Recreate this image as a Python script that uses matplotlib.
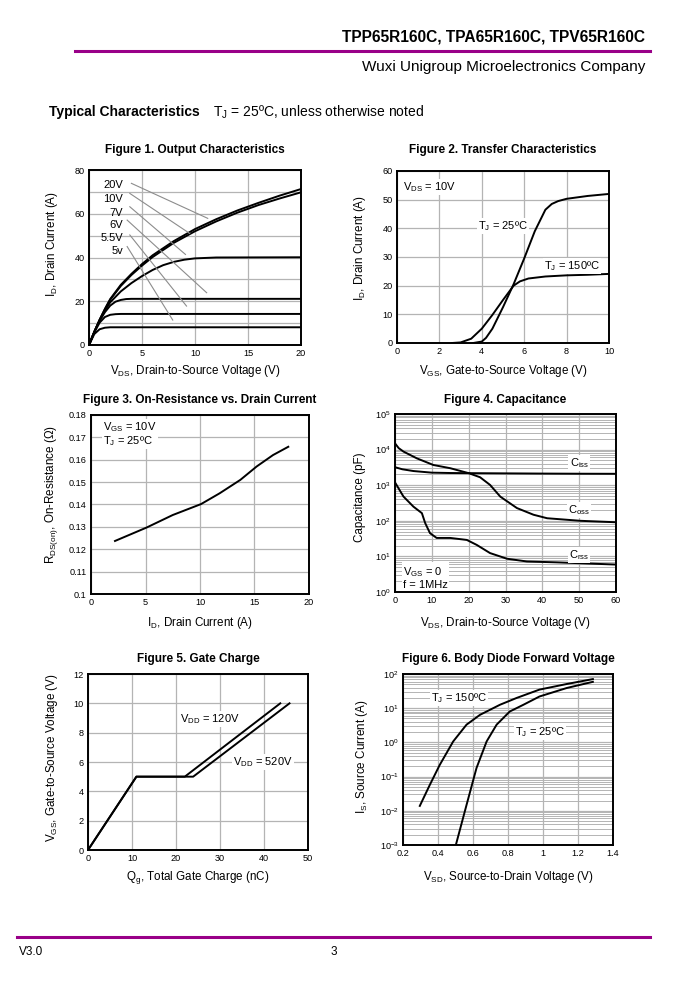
import matplotlib.pyplot as plt
import numpy as np
from matplotlib.ticker import LogLocator, NullFormatter, FormatStrFormatter

plt.rcParams['font.family'] = ['Liberation Sans', 'DejaVu Sans']
plt.rcParams['mathtext.fontset'] = 'custom'
plt.rcParams['mathtext.rm'] = 'Liberation Sans'
plt.rcParams['mathtext.it'] = 'Liberation Sans:italic'
plt.rcParams['mathtext.bf'] = 'Liberation Sans:bold'

W, H = 676, 989
PURPLE = '#990088'
GRID = '#b4b4b4'

# Figure 1 - output characteristics (Vds in V, Id in A)
vds_20 = [0, 0.5, 1, 1.5, 2, 3, 4, 5, 6, 8, 10, 12, 14, 16, 18, 20]
id_20v = [0, 6, 11.5, 16.5, 21, 27.5, 32.5, 37, 41, 47.5, 53, 57.5, 61.5, 65, 68.3, 71.3]
id_10v = [0, 6, 11.5, 16.3, 20.7, 27, 32, 36.3, 40.2, 46.7, 52, 56.5, 60.5, 64, 67, 69.8]
vds_7 = [0, 0.5, 1, 1.5, 2, 3, 4, 5, 6, 7, 8, 9, 10, 12, 20]
id_7v = [0, 6, 11.3, 15.8, 19.5, 24.5, 28.3, 31.5, 34.3, 36.5, 38, 39, 39.6, 40, 40.1]
vds_6 = [0, 0.5, 1, 1.5, 2, 2.5, 3, 3.5, 4, 20]
id_6v = [0, 6, 11, 15, 18, 19.8, 20.6, 21, 21.1, 21.1]
vds_55 = [0, 0.5, 1, 1.5, 2, 2.5, 3, 20]
id_55v = [0, 5.8, 10.2, 12.8, 13.8, 14.1, 14.2, 14.2]
vds_5 = [0, 0.5, 1, 1.5, 2, 20]
id_5v = [0, 5, 7.2, 7.9, 8.1, 8.1]
vgs_labels = ['20V', '10V', '7V', '6V', '5.5V', '5v']
label_y = [73, 66.6, 60.5, 55, 48.8, 43]
leader_start = [(4.0, 73.9), (3.85, 69.3), (3.85, 63.2), (3.6, 57.1), (3.85, 50.3), (3.6, 45)]
leader_end = [(11.2, 57.9), (9.5, 51), (9.1, 41.4), (11.1, 23.9), (9.2, 17.8), (7.9, 11.4)]

# Figure 2 - transfer characteristics
vgs_25 = [3.6, 4.0, 4.2, 4.5, 5.0, 5.5, 6.0, 6.5, 7.0, 7.3, 7.6, 8.0, 9.0, 10.0]
id_25 = [0, 0.5, 1.8, 5, 12.5, 20.5, 29.5, 39, 46.5, 48.5, 49.5, 50.3, 51.3, 52]
vgs_150 = [2.6, 3.0, 3.5, 4.0, 4.5, 5.0, 5.5, 5.8, 6.2, 7, 8, 9, 10]
id_150 = [0, 0.2, 1.5, 5, 9.8, 15, 20, 21.5, 22.5, 23.2, 23.6, 23.8, 24.1]

# Figure 3 - on-resistance vs drain current
id_ron = [2.2, 5.1, 7.5, 10.1, 11.8, 13.7, 15.2, 16.7, 18.1]
rdson = [0.1237, 0.1297, 0.1353, 0.1402, 0.145, 0.151, 0.157, 0.1621, 0.1658]

# Figure 4 - capacitance (pF)
vds_ciss = [0, 2, 5, 10, 15, 20, 30, 40, 50, 60]
ciss = [3200, 2800, 2500, 2250, 2200, 2180, 2150, 2120, 2100, 2090]
vds_coss = [0, 1, 2.3, 5.9, 10.4, 15, 20, 23.1, 25.8, 28.6, 33.1, 37.6, 41.3, 50.3, 60]
coss = [15000, 11000, 8800, 5700, 3700, 3000, 2180, 1670, 1020, 476, 228, 148, 118, 100, 91]
vds_crss = [0, 2.3, 5, 7.3, 8.2, 9.5, 11.3, 15, 19.5, 22.2, 25.8, 30.4, 35.8, 44, 60]
crss = [1200, 480, 250, 164, 86, 45, 33, 33, 29, 21, 12.4, 8.6, 7.2, 6.8, 5.9]

# Figure 5 - gate charge
qg_120 = [0, 11, 22, 43.7]
vgs_120 = [0, 5, 5, 10]
qg_520 = [0, 11, 23.9, 45.8]
vgs_520 = [0, 5, 5, 10]

# Figure 6 - body diode forward voltage
vsd_150 = [0.296, 0.353, 0.41, 0.487, 0.563, 0.64, 0.754, 0.85, 0.98, 1.136, 1.285]
is_150 = [0.0139, 0.057, 0.22, 1.07, 3.3, 6.4, 12.6, 20, 35, 51, 71]
vsd_25 = [0.502, 0.563, 0.62, 0.678, 0.735, 0.81, 0.888, 0.98, 1.136, 1.285]
is_25 = [0.001, 0.0148, 0.178, 1.07, 3.3, 8, 12.6, 22, 39, 59]

fig = plt.figure(figsize=(W / 100, H / 100), dpi=100)


def px(x, y):
    return x / W, 1 - y / H


def box(l, t, r, b):
    return fig.add_axes([l / W, 1 - b / H, (r - l) / W, (b - t) / H])


def style(ax, title, title_y, xlabel, xlab_y, ylabel, ylab_x, ylab_y):
    pos = ax.get_position()
    fig.text((pos.x0 + pos.x1) / 2, 1 - title_y / H, title, ha='center', va='center',
             fontsize=8.5, fontweight='bold')
    ax.set_xlabel(xlabel, fontsize=8.4, va='center')
    ax.xaxis.set_label_coords((pos.x0 + pos.x1) / 2, 1 - xlab_y / H, transform=fig.transFigure)
    ax.set_ylabel(ylabel, fontsize=8.4, va='center')
    ax.yaxis.set_label_coords(ylab_x / W, 1 - ylab_y / H, transform=fig.transFigure)
    ax.tick_params(length=0, labelsize=6.6, pad=3)
    for s in ax.spines.values():
        s.set_linewidth(1.4)
    ax.grid(True, color=GRID, lw=0.9)
    ax.set_axisbelow(True)


lbl = dict(fontsize=8, bbox=dict(fc='white', ec='none', pad=0.8))

# header / footer
fig.text(*px(645, 37), 'TPP65R160C, TPA65R160C, TPV65R160C', ha='right', va='center',
         fontsize=11.2, fontweight='bold')
fig.add_artist(plt.Line2D([75 / W, 650 / W], [1 - 51 / H] * 2, color=PURPLE, lw=2.2))
fig.text(*px(645, 67), 'Wuxi Unigroup Microelectronics Company', ha='right', va='center',
         fontsize=11)
fig.text(*px(49, 112), 'Typical Characteristics', ha='left', va='center',
         fontsize=10, fontweight='bold')
fig.text(*px(213, 112), 'T$_{\\mathrm{J}}$ = 25ºC, unless otherwise noted', ha='left',
         va='center', fontsize=10)
fig.add_artist(plt.Line2D([17 / W, 650 / W], [1 - 937 / H] * 2, color=PURPLE, lw=2.2))
fig.text(*px(19, 952), 'V3.0', ha='left', va='center', fontsize=8.5)
fig.text(*px(334, 952), '3', ha='center', va='center', fontsize=8.5)

# Figure 1
ax1 = box(89, 170, 301, 345)
for xs, ys in [(vds_20, id_20v), (vds_20, id_10v), (vds_7, id_7v), (vds_6, id_6v),
               (vds_55, id_55v), (vds_5, id_5v)]:
    ax1.plot(xs, ys, color='black', lw=1.4)
for name, ly, p0, p1 in zip(vgs_labels, label_y, leader_start, leader_end):
    ax1.text(3.2, ly, name, ha='right', va='center', fontsize=8)
    ax1.plot([p0[0], p1[0]], [p0[1], p1[1]], color='#8c8c8c', lw=0.8)
ax1.set_xlim(0, 20)
ax1.set_ylim(0, 80)
ax1.set_xticks([0, 5, 10, 15, 20])
ax1.set_yticks([0, 20, 40, 60, 80])
ax1.set_yticks([10, 30, 50, 70], minor=True)
style(ax1, 'Figure 1. Output Characteristics', 150,
      'V$_{\\mathrm{DS}}$, Drain-to-Source Voltage (V)', 371,
      'I$_{\\mathrm{D}}$, Drain Current (A)', 52, 244)
ax1.grid(True, which='minor', axis='y', color=GRID, lw=0.9)
ax1.tick_params(which='minor', length=0)

# Figure 2
ax2 = box(397, 171, 609, 343)
ax2.plot(vgs_25, id_25, color='black', lw=1.4)
ax2.plot(vgs_150, id_150, color='black', lw=1.4)
ax2.set_xlim(0, 10)
ax2.set_ylim(0, 60)
ax2.set_xticks([0, 2, 4, 6, 8, 10])
ax2.set_yticks([0, 10, 20, 30, 40, 50, 60])
ax2.text(0.3, 54.5, 'V$_{\\mathrm{DS}}$ = 10V', ha='left', va='center', **lbl)
ax2.text(5.0, 40.8, 'T$_{\\mathrm{J}}$ = 25ºC', ha='center', va='center', **lbl)
ax2.text(8.25, 26.8, 'T$_{\\mathrm{J}}$ = 150ºC', ha='center', va='center', **lbl)
style(ax2, 'Figure 2. Transfer Characteristics', 150,
      'V$_{\\mathrm{GS}}$, Gate-to-Source Voltage (V)', 371,
      'I$_{\\mathrm{D}}$, Drain Current (A)', 360, 248)

# Figure 3
ax3 = box(91, 415, 309, 594)
ax3.plot(id_ron, rdson, color='black', lw=1.4)
ax3.set_xlim(0, 20)
ax3.set_ylim(0.1, 0.18)
ax3.set_xticks([0, 5, 10, 15, 20])
ax3.set_yticks(np.arange(0.1, 0.1801, 0.01))
ax3.yaxis.set_major_formatter(FormatStrFormatter('%g'))
ax3.text(1.1, 0.1715, 'V$_{\\mathrm{GS}}$ = 10V\nT$_{\\mathrm{J}}$ = 25ºC', ha='left',
         va='center', linespacing=1.1, **lbl)
style(ax3, 'Figure 3. On-Resistance vs. Drain Current', 400,
      'I$_{\\mathrm{D}}$, Drain Current (A)', 623,
      'R$_{\\mathrm{DS(on)}}$, On-Resistance (Ω)', 52, 495)

# Figure 4
ax4 = box(395, 414, 616, 592)
ax4.plot(vds_ciss, ciss, color='black', lw=1.4)
ax4.plot(vds_coss, coss, color='black', lw=1.4)
ax4.plot(vds_crss, crss, color='black', lw=1.4)
ax4.set_yscale('log')
ax4.set_xlim(0, 60)
ax4.set_ylim(1, 1e5)
ax4.set_xticks([0, 10, 20, 30, 40, 50, 60])
ax4.yaxis.set_major_locator(LogLocator(base=10, numticks=10))
ax4.yaxis.set_minor_locator(LogLocator(base=10, subs=np.arange(2, 10), numticks=10))
ax4.yaxis.set_minor_formatter(NullFormatter())
ax4.text(50, 4150, 'C$_{\\mathrm{iss}}$', ha='center', va='center', **lbl)
ax4.text(50, 195, 'C$_{\\mathrm{oss}}$', ha='center', va='center', **lbl)
ax4.text(50, 11, 'C$_{\\mathrm{rss}}$', ha='center', va='center', **lbl)
ax4.text(2.2, 2.6, 'V$_{\\mathrm{GS}}$ = 0\nf = 1MHz', ha='left', va='center',
         linespacing=1.1, **lbl)
style(ax4, 'Figure 4. Capacitance', 400,
      'V$_{\\mathrm{DS}}$, Drain-to-Source Voltage (V)', 623,
      'Capacitance (pF)', 360, 497)
ax4.grid(True, which='minor', axis='y', color=GRID, lw=0.7)
ax4.tick_params(which='minor', length=0)

# Figure 5
ax5 = box(88, 674, 308, 850)
ax5.plot(qg_120, vgs_120, color='black', lw=1.4)
ax5.plot(qg_520, vgs_520, color='black', lw=1.4)
ax5.set_xlim(0, 50)
ax5.set_ylim(0, 12)
ax5.set_xticks([0, 10, 20, 30, 40, 50])
ax5.set_yticks([0, 2, 4, 6, 8, 10, 12])
ax5.text(27.7, 8.95, 'V$_{\\mathrm{DD}}$ = 120V', ha='center', va='center', **lbl)
ax5.text(39.7, 5.98, 'V$_{\\mathrm{DD}}$ = 520V', ha='center', va='center', **lbl)
style(ax5, 'Figure 5. Gate Charge', 659,
      'Q$_{\\mathrm{g}}$, Total Gate Charge (nC)', 877,
      'V$_{\\mathrm{GS}}$, Gate-to-Source Voltage (V)', 52, 758)

# Figure 6
ax6 = box(403, 674, 613, 845)
ax6.plot(vsd_150, is_150, color='black', lw=1.4)
ax6.plot(vsd_25, is_25, color='black', lw=1.4)
ax6.set_yscale('log')
ax6.set_xlim(0.2, 1.4)
ax6.set_ylim(1e-3, 1e2)
ax6.set_xticks([0.2, 0.4, 0.6, 0.8, 1.0, 1.2, 1.4])
ax6.xaxis.set_major_formatter(FormatStrFormatter('%g'))
ax6.yaxis.set_major_locator(LogLocator(base=10, numticks=10))
ax6.yaxis.set_minor_locator(LogLocator(base=10, subs=np.arange(2, 10), numticks=10))
ax6.yaxis.set_minor_formatter(NullFormatter())
ax6.text(0.52, 19.8, 'T$_{\\mathrm{J}}$ = 150ºC', ha='center', va='center', **lbl)
ax6.text(0.985, 2.0, 'T$_{\\mathrm{J}}$ = 25ºC', ha='center', va='center', **lbl)
style(ax6, 'Figure 6. Body Diode Forward Voltage', 659,
      'V$_{\\mathrm{SD}}$, Source-to-Drain Voltage (V)', 877,
      'I$_{\\mathrm{S}}$, Source Current (A)', 362, 757)
ax6.grid(True, which='minor', axis='y', color=GRID, lw=0.7)
ax6.tick_params(which='minor', length=0)

fig.savefig('out.png', dpi=100)
